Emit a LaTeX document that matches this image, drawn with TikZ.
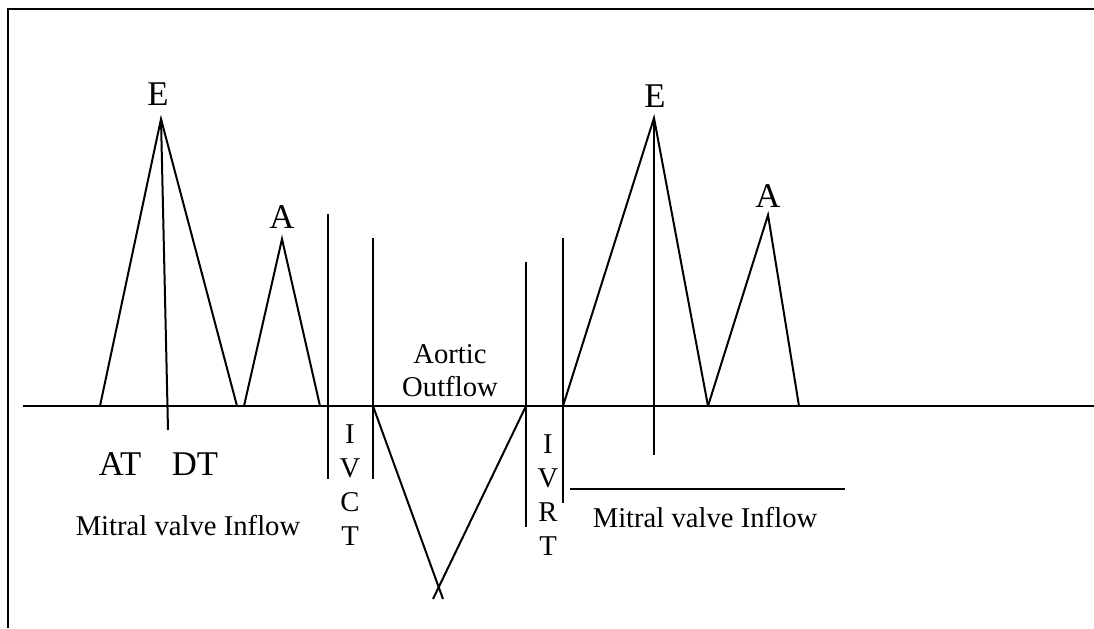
\documentclass[tikz,border=0pt]{standalone}
\usepackage{fontspec}
\setmainfont{Liberation Serif}
\begin{document}
\begin{tikzpicture}[x=0.75pt,y=-0.75pt,
  wave/.style={line width=1.5pt,black},
  big/.style={anchor=base,inner sep=0pt,font=\fontsize{26}{30}\selectfont},
  small/.style={anchor=base,inner sep=0pt,font=\fontsize{21.5}{25}\selectfont}]
\useasboundingbox (0,0) rectangle (1094,628);
% frame
\draw[wave] (8,628) -- (8,9) -- (1094,9);
% baseline
\draw[wave] (23,406) -- (1094,406);
% first E wave
\coordinate (e1l) at (100,406); \coordinate (e1p) at (161,119); \coordinate (e1r) at (237,406);
\coordinate (e1t) at (168,430);
\draw[wave] (e1l) -- (e1p) -- (e1r);
\draw[wave] (e1p) -- (e1t);
% first A wave
\coordinate (a1l) at (244,406); \coordinate (a1p) at (282,239); \coordinate (a1r) at (320,406);
\draw[wave] (a1l) -- (a1p) -- (a1r);
% IVCT
\coordinate (c1t) at (328,214); \coordinate (c1b) at (328,479);
\coordinate (c2t) at (373,238); \coordinate (c2b) at (373,479);
\draw[wave] (c1t) -- (c1b);
\draw[wave] (c2t) -- (c2b);
% aortic outflow
\coordinate (o1) at (373,406); \coordinate (o1e) at (443,599);
\coordinate (o2) at (526,406); \coordinate (o2e) at (433,599);
\draw[wave] (o1) -- (o1e);
\draw[wave] (o2) -- (o2e);
% IVRT
\coordinate (r1t) at (526,262); \coordinate (r1b) at (526,527);
\coordinate (r2t) at (563,238); \coordinate (r2b) at (563,503);
\draw[wave] (r1t) -- (r1b);
\draw[wave] (r2t) -- (r2b);
% second E wave
\coordinate (e2l) at (563,406); \coordinate (e2p) at (654,118); \coordinate (e2r) at (708,406);
\coordinate (e2t) at (654,455);
\draw[wave] (e2l) -- (e2p) -- (e2r);
\draw[wave] (e2p) -- (e2t);
% second A wave
\coordinate (a2p) at (768,215); \coordinate (a2r) at (799,406);
\draw[wave] (e2r) -- (a2p) -- (a2r);
% mitral inflow bar
\coordinate (m1) at (570,489); \coordinate (m2) at (845,489);
\draw[wave] (m1) -- (m2);
% labels
\node[big] (E1) at (158,105) {E};
\node[big] (A1) at (282,228) {A};
\node[big] (E2) at (655,107) {E};
\node[big] (A2) at (768,207) {A};
\node[big] (AT) at (120,475) {AT};
\node[big] (DT) at (195,475) {DT};
\node[small] (MV1) at (188,535) {Mitral valve Inflow};
\node[small] (MV2) at (705,527) {Mitral valve Inflow};
\node[small] (AO1) at (450,363) {Aortic};
\node[small] (AO2) at (450,396) {Outflow};
\node[small] (ivct1) at (350,443) {I};
\node[small] (ivct2) at (350,477) {V};
\node[small] (ivct3) at (350,511) {C};
\node[small] (ivct4) at (350,545) {T};
\node[small] (ivrt1) at (548,453) {I};
\node[small] (ivrt2) at (548,487) {V};
\node[small] (ivrt3) at (548,521) {R};
\node[small] (ivrt4) at (548,555) {T};
\end{tikzpicture}
\end{document}
